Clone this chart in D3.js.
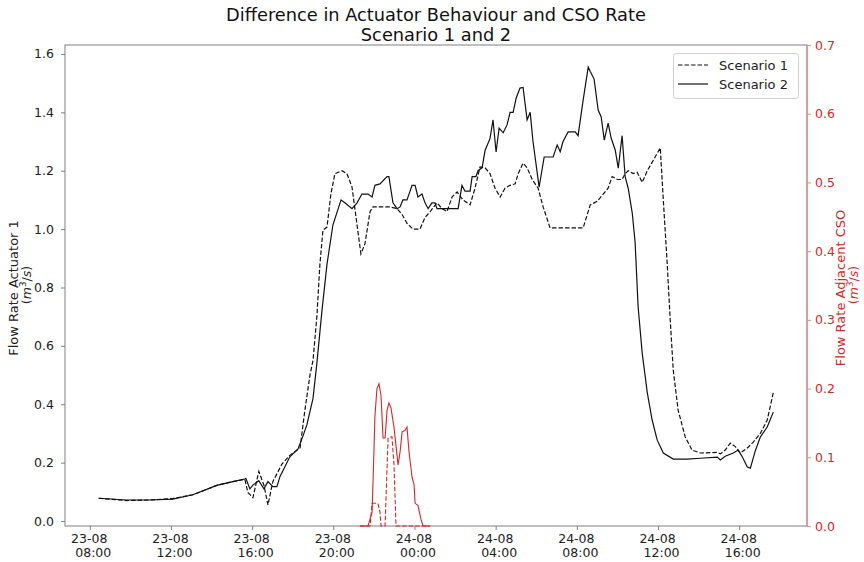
<!DOCTYPE html>
<html><head><meta charset="utf-8">
<script src="https://cdn.jsdelivr.net/npm/d3@7"></script>
<style>body{margin:0;background:#fff} text{font-family:"DejaVu Sans",sans-serif}</style>
</head><body><svg id="c" width="864" height="562"></svg>
<script>
// hours since 23-08 00:00
const s1Hours = [8.44,9.82,10.96,12.09,13.08,14.26,15.05,15.64,15.79,16.04,16.33,16.58,16.78,17.02,17.47,17.86,18.36,18.60,18.85,19.00,19.19,19.34,19.49,19.69,19.88,20.08,20.43,20.67,20.92,21.12,21.36,21.56,21.81,21.96,22.79,23.14,23.39,23.63,23.93,24.27,24.52,24.77,25.11,25.36,25.60,25.85,26.10,26.39,26.74,26.98,27.23,27.48,27.72,27.97,28.22,28.46,28.71,28.96,29.11,29.35,29.55,29.80,30.09,30.34,30.68,32.31,32.66,33.00,33.30,33.54,33.74,33.99,34.23,34.38,34.53,34.78,34.97,35.22,35.47,35.76,36.11,36.26,36.45,36.60,36.75,36.99,37.34,37.68,38.08,38.92,39.07,39.31,39.56,39.81,40.05,40.40,40.69,41.04,41.38,41.68];
const s1Values = [0.078,0.07,0.072,0.077,0.09,0.122,0.135,0.143,0.098,0.08,0.17,0.123,0.055,0.135,0.195,0.225,0.25,0.38,0.5,0.55,0.7,0.88,0.997,1.007,1.12,1.19,1.20,1.19,1.145,1.04,0.915,0.95,1.06,1.076,1.076,1.07,1.05,1.02,1.0,1.0,1.04,1.06,1.09,1.07,1.06,1.11,1.127,1.10,1.083,1.14,1.213,1.21,1.19,1.14,1.11,1.14,1.15,1.155,1.19,1.226,1.21,1.17,1.14,1.076,1.004,1.004,1.083,1.095,1.12,1.14,1.18,1.17,1.17,1.19,1.20,1.19,1.195,1.16,1.2,1.235,1.278,1.10,0.884,0.689,0.517,0.38,0.288,0.243,0.233,0.235,0.23,0.243,0.267,0.255,0.233,0.25,0.27,0.30,0.346,0.44];
const s2Hours = [8.44,9.82,10.96,12.09,13.08,14.26,15.05,15.64,15.69,15.89,16.04,16.33,16.58,16.78,17.02,17.22,17.37,17.86,18.26,18.50,18.70,19.00,19.19,19.44,19.69,19.98,20.38,20.57,20.92,21.17,21.41,21.71,21.91,22.05,22.30,22.65,22.74,22.94,23.14,23.29,23.43,23.63,23.88,24.03,24.17,24.37,24.52,24.67,24.86,25.01,25.11,25.26,26.15,26.34,26.49,26.74,26.84,27.03,27.13,27.33,27.48,27.72,27.87,28.02,28.17,28.37,28.56,28.71,28.86,29.01,29.20,29.35,29.55,29.70,29.84,30.14,30.39,30.83,31.03,31.18,31.32,31.57,31.92,32.06,32.31,32.56,32.66,32.85,33.05,33.20,33.35,33.54,33.69,33.89,34.04,34.23,34.38,34.53,34.73,34.87,35.02,35.22,35.47,35.71,35.96,36.26,36.75,37.44,38.08,38.92,39.07,39.31,39.71,39.95,40.15,40.40,40.55,40.79,41.04,41.38,41.68];
const s2Values = [0.078,0.072,0.072,0.075,0.09,0.122,0.135,0.144,0.146,0.11,0.123,0.138,0.11,0.135,0.118,0.118,0.152,0.22,0.247,0.29,0.33,0.42,0.54,0.72,0.88,1.014,1.10,1.09,1.07,1.09,1.12,1.12,1.11,1.15,1.155,1.18,1.18,1.09,1.07,1.076,1.10,1.10,1.15,1.15,1.11,1.12,1.09,1.07,1.09,1.09,1.07,1.07,1.07,1.15,1.13,1.13,1.18,1.18,1.20,1.21,1.27,1.31,1.374,1.264,1.346,1.33,1.357,1.40,1.40,1.449,1.483,1.485,1.374,1.40,1.30,1.144,1.247,1.247,1.288,1.265,1.30,1.333,1.333,1.32,1.442,1.555,1.54,1.514,1.408,1.384,1.305,1.363,1.312,1.271,1.209,1.32,1.18,1.14,1.055,0.955,0.733,0.575,0.44,0.346,0.277,0.233,0.212,0.212,0.215,0.219,0.209,0.222,0.233,0.243,0.22,0.185,0.181,0.24,0.288,0.322,0.373];
const cso1Hours = [21.31,21.81,21.91,22.20,22.30,22.35,22.55,22.65,22.70,22.89,22.99,23.09,24.77];
const cso1Values = [0,0,0.033,0.033,0.02,0,0,0.086,0.128,0.13,0.09,0,0];
const cso2Hours = [21.31,21.71,21.91,21.96,22.05,22.15,22.25,22.35,22.45,22.55,22.65,22.74,22.84,22.99,23.19,23.29,23.39,23.53,23.63,23.73,23.88,23.98,24.03,24.17,24.32,24.42,24.77];
const cso2Values = [0,0,0.02,0.067,0.159,0.2,0.207,0.19,0.128,0.128,0.169,0.179,0.172,0.144,0.089,0.108,0.137,0.139,0.144,0.108,0.071,0.06,0.033,0.03,0.01,0,0];
const xTickHours = [8,12,16,20,24,28,32,36,40];
const yLeftTicks = [0.0,0.2,0.4,0.6,0.8,1.0,1.2,1.4,1.6];
const yRightTicks = [0.0,0.1,0.2,0.3,0.4,0.5,0.6,0.7];
const seriesNames = ["Scenario 1","Scenario 2"];

const base = new Date(2023,7,23,0,0,0).getTime();
const toDate = h => new Date(base + h*3600e3);
const svg = d3.select("#c");
const L=65,R=807,T=45,B=526;
const RED="#d62728";
const x = d3.scaleTime().domain([toDate(6.78),toDate(43.34)]).range([L,R]);
const yL = d3.scaleLinear().domain([-0.0171,1.6307]).range([B,T]);
const yR = d3.scaleLinear().domain([0,0.7]).range([B,T]);

const pts = (hs,vs)=>hs.map((h,i)=>({t:toDate(h),v:vs[i]}));
const lineL = d3.line().x(d=>x(d.t)).y(d=>yL(d.v));
const lineR = d3.line().x(d=>x(d.t)).y(d=>yR(d.v));

// frame
svg.append("rect").attr("x",L).attr("y",T).attr("width",R-L).attr("height",B-T).attr("fill","none").attr("stroke","#808080").attr("stroke-width",1);

// series
svg.append("path").attr("d",lineL(pts(s1Hours,s1Values))).attr("fill","none").attr("stroke","#111").attr("stroke-width",1.2).attr("stroke-dasharray","4.5,2");
svg.append("path").attr("d",lineL(pts(s2Hours,s2Values))).attr("fill","none").attr("stroke","#111").attr("stroke-width",1.2);
svg.append("path").attr("d",lineR(pts(cso1Hours,cso1Values))).attr("fill","none").attr("stroke",RED).attr("stroke-width",1.1).attr("stroke-dasharray","4.5,2");
svg.append("path").attr("d",lineR(pts(cso2Hours,cso2Values))).attr("fill","none").attr("stroke",RED).attr("stroke-width",1.1);

// right spine
svg.append("line").attr("x1",R).attr("x2",R).attr("y1",T).attr("y2",B).attr("stroke","#e48a8a").attr("stroke-width",1.2);

// x axis
const fmtD=d3.timeFormat("%d-%m"), fmtT=d3.timeFormat("%H:%M");
const xa = svg.append("g").attr("transform",`translate(0,${B})`)
  .call(d3.axisBottom(x).tickValues(xTickHours.map(toDate)).tickSize(4).tickPadding(4).tickFormat(""));
xa.select(".domain").remove();
xa.selectAll(".tick line").attr("stroke","#808080");
xa.selectAll(".tick").each(function(d){
  const g=d3.select(this);
  const t=g.append("text").attr("fill","#222").attr("font-size",12.5).attr("text-anchor","middle");
  t.append("tspan").attr("x",-1).attr("y",17).text(fmtD(d));
  t.append("tspan").attr("x",3).attr("y",31).text(fmtT(d));
});

// left axis
const ya = svg.append("g").attr("transform",`translate(${L},0)`)
  .call(d3.axisLeft(yL).tickValues(yLeftTicks).tickSize(4).tickPadding(7).tickFormat(d3.format(".1f")));
ya.select(".domain").remove();
ya.selectAll(".tick line").attr("stroke","#808080");
ya.selectAll(".tick text").attr("fill","#222").attr("font-size",12.5).attr("font-family","DejaVu Sans");

// right axis
const yra = svg.append("g").attr("transform",`translate(${R},0)`)
  .call(d3.axisRight(yR).tickValues(yRightTicks).tickSize(4).tickPadding(4).tickFormat(d3.format(".1f")));
yra.select(".domain").remove();
yra.selectAll(".tick line").attr("stroke","#e48a8a");
yra.selectAll(".tick text").attr("fill",RED).attr("font-size",12.5).attr("font-family","DejaVu Sans");

// title
svg.append("text").attr("x",436).attr("y",21).attr("text-anchor","middle").attr("font-size",17.8).attr("fill","#111").text("Difference in Actuator Behaviour and CSO Rate");
svg.append("text").attr("x",436).attr("y",40.5).attr("text-anchor","middle").attr("font-size",17.8).attr("fill","#111").text("Scenario 1 and 2");

// axis labels
function unitLabel(g){
  g.append("tspan").text("(");
  g.append("tspan").attr("font-style","italic").text("m");
  g.append("tspan").attr("font-size","0.7em").attr("dy",-5).text("3");
  g.append("tspan").attr("dy",5).text("/");
  g.append("tspan").attr("font-style","italic").text("s");
  g.append("tspan").text(")");
}
svg.append("text").attr("transform","translate(17.5,288) rotate(-90)").attr("text-anchor","middle").attr("font-size",13).attr("fill","#222").text("Flow Rate Actuator 1");
unitLabel(svg.append("text").attr("transform","translate(30.5,285) rotate(-90)").attr("text-anchor","middle").attr("font-size",12.5).attr("fill","#222"));
svg.append("text").attr("transform","translate(845,288) rotate(-90)").attr("text-anchor","middle").attr("font-size",13).attr("fill",RED).text("Flow Rate Adjacent CSO");
unitLabel(svg.append("text").attr("transform","translate(857.5,285) rotate(-90)").attr("text-anchor","middle").attr("font-size",12.5).attr("fill",RED));

// legend
const lg = svg.append("g");
lg.append("rect").attr("x",673.5).attr("y",53.5).attr("width",125).attr("height",45).attr("rx",3).attr("fill","#fff").attr("fill-opacity",0.8).attr("stroke","#d0d0d0");
seriesNames.forEach((n,i)=>{
  const yy=65+i*19;
  lg.append("line").attr("x1",678).attr("x2",708).attr("y1",yy).attr("y2",yy).attr("stroke","#111").attr("stroke-width",1.2).attr("stroke-dasharray",i===0?"4.5,2":null);
  lg.append("text").attr("x",719).attr("y",yy+4.5).attr("font-size",13).attr("fill","#222").text(n);
});
</script></body></html>
